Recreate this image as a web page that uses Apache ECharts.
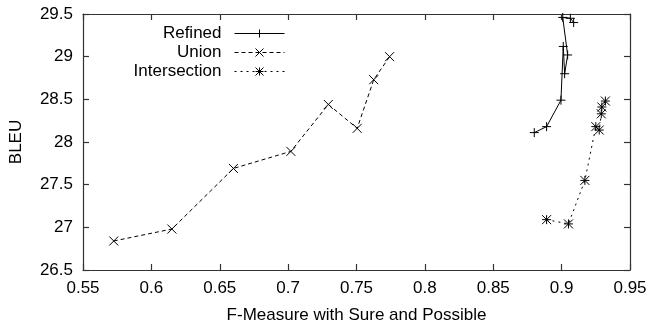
<!DOCTYPE html>
<html>
<head>
<meta charset="utf-8">
<script src="https://cdn.jsdelivr.net/npm/echarts@6/dist/echarts.min.js"></script>
<style>html,body{margin:0;padding:0;background:#fff}#c{width:650px;height:329px}</style>
</head>
<body>
<div id="c"></div>
<script>
var seriesNames = ['Refined', 'Union', 'Intersection'];
var refinedX = [0.880, 0.889, 0.8995, 0.9012, 0.9022, 0.9044, 0.9008, 0.9064, 0.9088];
var refinedY = [28.11, 28.18, 28.49, 29.12, 28.80, 29.02, 29.46, 29.45, 29.40];
var unionX = [0.5725, 0.615, 0.660, 0.702, 0.7294, 0.7505, 0.7626, 0.7742];
var unionY = [26.84, 26.98, 27.69, 27.89, 28.44, 28.16, 28.73, 29.00];
var interX = [0.889, 0.905, 0.917, 0.925, 0.9275, 0.929, 0.9294, 0.932];
var interY = [27.09, 27.04, 27.55, 28.18, 28.14, 28.33, 28.41, 28.48];
var xTicks = [0.55, 0.6, 0.65, 0.7, 0.75, 0.8, 0.85, 0.9, 0.95];
var yTicks = [26.5, 27, 27.5, 28, 28.5, 29, 29.5];

function pairs(xs, ys) { return xs.map(function (x, i) { return [x, ys[i]]; }); }
var FONT = 'Liberation Sans';
var FS = 17;
var plusPath = 'path://M0,5L10,5M5,0L5,10';
var crossPath = 'path://M0,0L10,10M10,0L0,10';
var starPath = 'path://M0,5L10,5M5,0L5,10M0,0L10,10M10,0L0,10';
function mk(name, data, sym, dash) {
  return {
    name: name, type: 'line', data: data, symbol: sym, symbolSize: 9,
    showAllSymbol: true,
    lineStyle: { color: '#000', width: 1, type: dash },
    itemStyle: { color: '#000', borderColor: '#000', borderWidth: 1 },
    animation: false
  };
}
var axisCommon = {
  axisLine: { lineStyle: { color: '#333', width: 1.2 } },
  axisTick: { inside: true, length: 6, lineStyle: { color: '#333', width: 1.2 } },
  splitLine: { show: false }
};
var chart = echarts.init(document.getElementById('c'), null, { renderer: 'canvas' });
chart.setOption({
  backgroundColor: '#fff',
  animation: false,
  textStyle: { fontFamily: FONT },
  grid: { left: 80, right: 20, top: 14, bottom: 59, containLabel: false },
  legend: {
    right: 365, top: 25, orient: 'vertical', align: 'right',
    itemWidth: 50, itemHeight: 10, itemGap: 2,
    padding: 0,
    lineStyle: { width: 1 },
    itemStyle: { borderWidth: 1 },
    textStyle: { fontFamily: FONT, fontSize: FS, color: '#000', padding: [0, 8, 0, 0] },
    data: seriesNames
  },
  xAxis: [
    Object.assign({
      type: 'value', min: xTicks[0], max: xTicks[xTicks.length - 1], interval: 0.05,
      name: 'F-Measure with Sure and Possible', nameLocation: 'middle', nameGap: 37,
      nameTextStyle: { fontFamily: FONT, fontSize: FS, color: '#000' },
      axisLabel: { fontFamily: FONT, fontSize: FS, color: '#000', margin: 10,
        formatter: function (v) { return String(+v.toFixed(2)); } }
    }, axisCommon),
    Object.assign({
      type: 'value', position: 'top', min: xTicks[0], max: xTicks[xTicks.length - 1], interval: 0.05,
      axisLabel: { show: false }
    }, axisCommon)
  ],
  yAxis: [
    Object.assign({
      type: 'value', min: yTicks[0], max: yTicks[yTicks.length - 1], interval: 0.5,
      name: 'BLEU', nameLocation: 'middle', nameGap: 58, nameRotate: 90,
      nameTextStyle: { fontFamily: FONT, fontSize: FS, color: '#000' },
      axisLabel: { fontFamily: FONT, fontSize: FS, color: '#000', margin: 10,
        formatter: function (v) { return String(+v.toFixed(1)); } }
    }, axisCommon),
    Object.assign({
      type: 'value', position: 'right', min: yTicks[0], max: yTicks[yTicks.length - 1], interval: 0.5,
      axisLabel: { show: false }
    }, axisCommon)
  ],
  series: [
    mk(seriesNames[0], pairs(refinedX, refinedY), plusPath, 'solid'),
    mk(seriesNames[1], pairs(unionX, unionY), crossPath, [4, 3]),
    mk(seriesNames[2], pairs(interX, interY), starPath, [2, 4])
  ]
});
</script>
</body>
</html>
